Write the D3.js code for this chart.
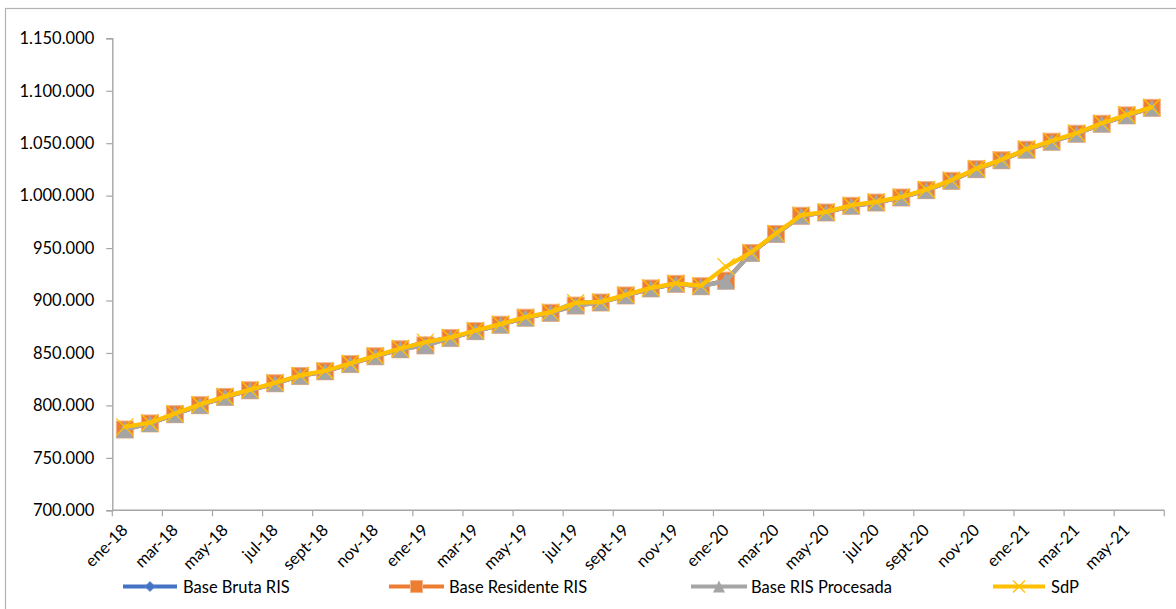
<!DOCTYPE html>
<html><head><meta charset="utf-8">
<script src="https://cdn.jsdelivr.net/npm/d3@7/dist/d3.min.js"></script>
<style>
html,body{margin:0;padding:0;background:#fff;}
svg{display:block;}
text{font-family:Lato,"Liberation Sans",sans-serif;fill:#000;}
</style></head>
<body>
<svg id="chart" width="1176" height="609"></svg>
<script>
const months = ["ene-18","feb-18","mar-18","abr-18","may-18","jun-18","jul-18","ago-18","sept-18","oct-18","nov-18","dic-18",
"ene-19","feb-19","mar-19","abr-19","may-19","jun-19","jul-19","ago-19","sept-19","oct-19","nov-19","dic-19",
"ene-20","feb-20","mar-20","abr-20","may-20","jun-20","jul-20","ago-20","sept-20","oct-20","nov-20","dic-20",
"ene-21","feb-21","mar-21","abr-21","may-21","jun-21"];

const baseBruta = [779000,782800,791600,800200,808100,814400,821100,828000,832500,839400,846800,853500,
860800,864200,870800,876900,883600,888300,898300,898100,904800,911500,915900,913600,
919000,945300,963400,980800,983900,990300,993400,998200,1005200,1014100,1025200,1033700,
1043800,1051400,1059000,1068500,1076500,1083700];

const baseResidente = [777000,782800,791600,800200,808100,814400,821100,828000,832500,839400,846800,853500,
857200,864200,870800,876900,883600,888300,895200,898100,904800,911500,915900,913600,
919000,945300,963400,980800,983900,990300,993400,998200,1005200,1014100,1025200,1033700,
1043800,1051400,1059000,1068500,1076500,1083700];

const baseProcesada = [777000,782800,791600,800200,808100,814400,821100,828000,832500,839400,846800,853500,
857200,864200,870800,876900,883600,888300,895200,898100,904800,911500,915900,913600,
918500,945300,963400,980800,983900,990300,993400,998200,1005200,1014100,1025200,1033700,
1043800,1051400,1059000,1068500,1076500,1083700];

const sdp = [779500,783500,792200,800800,808600,815000,821700,828600,833100,840000,847400,854200,
860300,864800,871400,877500,884200,888900,897800,898700,905400,912100,916400,914200,
932300,945900,964000,981400,984500,990900,994000,998800,1005800,1014700,1025800,1034300,
1044400,1052000,1059600,1069100,1077100,1084300];

const yTicks = [700000,750000,800000,850000,900000,950000,1000000,1050000,1100000,1150000];

const seriesNames = ["Base Bruta RIS","Base Residente RIS","Base RIS Procesada","SdP"];
const seriesColors = ["#4472C4","#ED7D31","#A5A5A5","#FFC000"];

const svg = d3.select("#chart");
const W = 1176, H = 609;

// chart area border
svg.append("rect").attr("x",5.5).attr("y",8.5).attr("width",W+20).attr("height",H+20)
  .attr("fill","none").attr("stroke","#b3b3b3").attr("stroke-width",1.2);

const pLeft = 112.3, pRight = 1164.3, pTop = 38.3, pBottom = 510.3;

const x = d3.scaleBand().domain(months).range([pLeft,pRight]).paddingInner(0).paddingOuter(0);
const y = d3.scaleLinear().domain([700000,1150000]).range([pBottom,pTop]);
const cx = m => x(m) + x.bandwidth()/2;

const fmt = v => d3.format(",")(v).replace(/,/g,".");

// y axis
const yAxis = svg.append("g").attr("transform",`translate(${pLeft},0)`)
  .call(d3.axisLeft(y).tickValues(yTicks).tickFormat(fmt).tickSize(6).tickPadding(12));
yAxis.select(".domain").attr("stroke","#a6a6a6").attr("stroke-width",1.4);
yAxis.selectAll(".tick line").attr("stroke","#a6a6a6").attr("stroke-width",1.2);
yAxis.selectAll(".tick text").style("font-family","Lato,'Liberation Sans',sans-serif").style("font-size","16.5px").attr("fill","#000");

// x axis (ticks every two categories at boundaries)
const xAxisG = svg.append("g");
xAxisG.append("line").attr("x1",pLeft).attr("x2",pRight).attr("y1",pBottom).attr("y2",pBottom)
  .attr("stroke","#a6a6a6").attr("stroke-width",1.4);
const tickMonths = months.filter((m,i)=> i%2===0);
xAxisG.selectAll(".xt").data(tickMonths.concat(["__end"])).enter().append("line")
  .attr("x1",d=> d==="__end"? pRight : x(d)).attr("x2",d=> d==="__end"? pRight : x(d))
  .attr("y1",pBottom).attr("y2",pBottom+6).attr("stroke","#a6a6a6").attr("stroke-width",1.2);
xAxisG.selectAll(".xl").data(tickMonths).enter().append("text")
  .attr("transform",d=>`translate(${cx(d)+4},${pBottom+21}) rotate(-45)`)
  .attr("text-anchor","end").style("font-size","16.5px").text(d=>d);

// series
const datasets = [baseBruta, baseResidente, baseProcesada, sdp];
const line = d3.line().x((d,i)=>cx(months[i])).y(d=>y(d)).curve(d3.curveLinear);

function marker(g, k, px, py, s){
  if(k===0){
    const r = 5;
    g.append("path").attr("d",`M${px},${py-r}L${px+r},${py}L${px},${py+r}L${px-r},${py}Z`)
      .attr("fill",seriesColors[0]).attr("stroke","#5b84cf").attr("stroke-width",0.8);
  } else if(k===1){
    const h = s/2;
    g.append("rect").attr("x",px-h).attr("y",py-h).attr("width",s).attr("height",s)
      .attr("fill",seriesColors[1]).attr("stroke","#f4b183").attr("stroke-width",1);
  } else if(k===2){
    const h = s/2;
    g.append("path").attr("d",`M${px},${py-h}L${px+h},${py+h}L${px-h},${py+h}Z`)
      .attr("fill",seriesColors[2]);
  } else {
    const h = s/2;
    g.append("path").attr("d",`M${px-h},${py-h}L${px+h},${py+h}M${px+h},${py-h}L${px-h},${py+h}`)
      .attr("stroke",seriesColors[3]).attr("stroke-width",1.3).attr("fill","none");
  }
}

datasets.forEach((data,k)=>{
  const g = svg.append("g");
  g.append("path").attr("d",line(data)).attr("fill","none")
    .attr("stroke",seriesColors[k]).attr("stroke-width",4.2).attr("stroke-linejoin","round").attr("stroke-linecap","round");
  data.forEach((v,i)=> marker(g,k,cx(months[i]),y(v),17));
});

// legend
const legendY = 586.5;
const legendItems = [
  {lx1:123, lx2:177, tx:183},
  {lx1:389, lx2:444, tx:449},
  {lx1:691, lx2:747, tx:751},
  {lx1:993, lx2:1045, tx:1051}
];
legendItems.forEach((it,k)=>{
  const g = svg.append("g");
  g.append("line").attr("x1",it.lx1).attr("x2",it.lx2).attr("y1",legendY).attr("y2",legendY)
    .attr("stroke",seriesColors[k]).attr("stroke-width",4.2);
  marker(g,k,(it.lx1+it.lx2)/2,legendY,k===0?10:12);
  g.append("text").attr("x",it.tx).attr("y",legendY+6).style("font-size","16.5px").text(seriesNames[k]);
});
</script>
</body></html>
